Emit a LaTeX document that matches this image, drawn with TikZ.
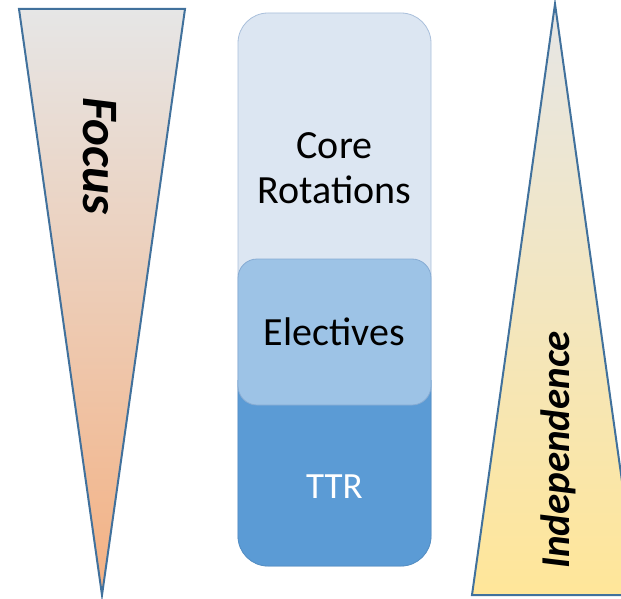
\documentclass[tikz,border=0pt]{standalone}
\usepackage{fontspec}
\setmainfont{Carlito}
\definecolor{edgeblue}{HTML}{41719C}
\definecolor{topgray}{HTML}{E6E6E6}
\definecolor{peach}{HTML}{F4B183}
\definecolor{lightyellow}{HTML}{FFE699}
\definecolor{corefill}{HTML}{DCE6F2}
\definecolor{coreedge}{HTML}{A9BFDB}
\definecolor{electfill}{HTML}{9DC3E6}
\definecolor{electedge}{HTML}{86ABD3}
\definecolor{ttrfill}{HTML}{5B9BD5}
\tikzset{
  tri/.style={draw=edgeblue, line width=2pt, line join=miter},
  blockbox/.style={rounded corners=30pt, minimum width=193pt, inner sep=0pt, line width=0.8pt},
  blocktext/.style={font=\fontsize{40}{45}\selectfont, align=center, inner sep=0pt},
  sidetext/.style={font=\bfseries\itshape, inner sep=0pt}
}
\begin{document}
\begin{tikzpicture}[x=1pt,y=-1pt]
\useasboundingbox (0,0) rectangle (621,599);
% left triangle
\coordinate (ltl) at (19,9);
\coordinate (ltr) at (185,9);
\coordinate (lap) at (102,595);
\shade[top color=topgray, bottom color=peach] (ltl) -- (ltr) -- (lap) -- cycle;
\draw[tri] (ltl) -- (ltr) -- (lap) -- cycle;
\node[sidetext, rotate=-90, font=\fontsize{51}{60}\bfseries\itshape] (focus) at (99.5,156) {Focus};
% right triangle
\coordinate (rap) at (555,4);
\coordinate (rbl) at (472,595);
\coordinate (rbr) at (638,595);
\begin{scope}
\clip (0,0) rectangle (621,599);
\shade[top color=topgray, bottom color=lightyellow] (rap) -- (rbr) -- (rbl) -- cycle;
\draw[tri] (rap) -- (rbr) -- (rbl) -- cycle;
\end{scope}
\node[sidetext, rotate=90, font=\fontsize{41}{50}\bfseries\itshape] (indep) at (558.5,450) {Independence};
% center column
\node[blockbox, fill=corefill, draw=coreedge, minimum height=553pt] (core) at (334.5,289.5) {};
\begin{scope}
\clip (200,380) rectangle (460,599);
\node[blockbox, fill=ttrfill, draw=ttrfill!92!black, minimum height=553pt] (ttr) at (334.5,289.5) {};
\end{scope}
\node[blockbox, rounded corners=19pt, fill=electfill, draw=electedge, minimum height=146pt] (elect) at (334.5,332) {};
\node[blocktext] (coretext) at (334.5,168) {Core\\Rotations};
\node[blocktext] (electtext) at (334.5,332) {Electives};
\node[blocktext, text=white, font=\fontsize{37}{40}\selectfont] (ttrtext) at (334.5,487) {TTR};
\end{tikzpicture}
\end{document}
